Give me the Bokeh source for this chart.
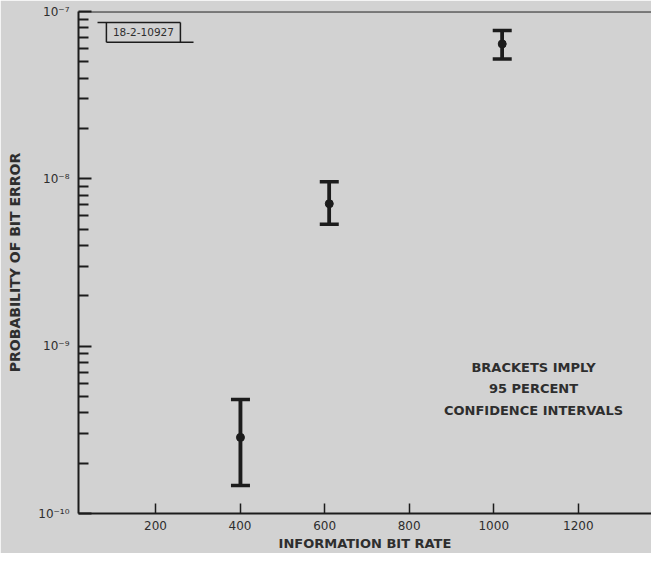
from bokeh.plotting import figure
from bokeh.models import (ColumnDataSource, Whisker, TeeHead, Label, Span,
                          CustomJSTickFormatter, FixedTicker)
from bokeh.embed import file_html
from bokeh.resources import INLINE

# ---- data ----
rates = [401, 611, 1020]
ber = [2.85e-10, 7.1e-9, 6.4e-8]
ber_low = [1.47e-10, 5.35e-9, 5.2e-8]
ber_high = [4.8e-10, 9.6e-9, 7.7e-8]
x_ticks = [200, 400, 600, 800, 1000, 1200, 1400]
y_decades = [1e-10, 1e-9, 1e-8, 1e-7]
note_lines = ["BRACKETS IMPLY", "95 PERCENT", "CONFIDENCE INTERVALS"]
tag_text = "18-2-10927"

BG = "#d2d2d2"
INK = "#1c1c1c"
TXT = "#2e2e2e"
FONT = "DejaVu Sans"

p = figure(width=651, height=553, x_range=(18, 1373), y_range=(1e-10, 1e-7),
           y_axis_type="log", output_backend="svg", toolbar_location=None,
           min_border_left=78, min_border_right=0, min_border_top=11,
           min_border_bottom=37)
p.background_fill_color = BG
p.border_fill_color = BG
p.outline_line_color = None
p.xgrid.visible = False
p.ygrid.visible = False

# top frame line
p.add_layout(Span(location=1e-7, dimension="width", line_color=INK, line_width=2))

src = ColumnDataSource(dict(x=rates, y=ber, lo=ber_low, hi=ber_high))
p.segment(x0="x", y0="lo", x1="x", y1="hi", source=src, line_color=INK, line_width=3.5)
w = Whisker(source=src, base="x", upper="hi", lower="lo", line_color=INK, line_width=3.5,
            upper_head=TeeHead(size=19, line_color=INK, line_width=3.5),
            lower_head=TeeHead(size=19, line_color=INK, line_width=3.5))
p.add_layout(w)
p.scatter(x="x", y="y", source=src, size=8, color=INK)

# x axis
xa = p.xaxis[0]
xa.ticker = FixedTicker(ticks=x_ticks, minor_ticks=[])
xa.axis_line_color = INK
xa.axis_line_width = 2
xa.major_tick_in = 10
xa.major_tick_out = 0
xa.major_tick_line_color = INK
xa.major_tick_line_width = 1.5
xa.minor_tick_line_color = None
xa.major_label_text_font = FONT
xa.major_label_text_font_size = "12px"
xa.major_label_text_color = TXT
xa.major_label_standoff = 7
xa.axis_label = "INFORMATION BIT RATE"
xa.axis_label_text_font = FONT
xa.axis_label_text_font_size = "13px"
xa.axis_label_text_font_style = "bold"
xa.axis_label_text_color = TXT
xa.axis_label_standoff = 3

# y axis
ya = p.yaxis[0]
minor = [m * d for d in y_decades[:-1] for m in range(2, 10)]
ya.ticker = FixedTicker(ticks=y_decades, minor_ticks=minor)
ya.formatter = CustomJSTickFormatter(code="""
const sup = {"-":"\u207b","0":"\u2070","1":"\u00b9","2":"\u00b2","3":"\u00b3","4":"\u2074",
             "5":"\u2075","6":"\u2076","7":"\u2077","8":"\u2078","9":"\u2079"};
const e = Math.round(Math.log10(tick));
return "10" + String(e).split("").map(c => sup[c]).join("");
""")
ya.axis_line_color = INK
ya.axis_line_width = 2
ya.major_tick_in = 13
ya.major_tick_out = 0
ya.minor_tick_in = 10
ya.minor_tick_out = 0
ya.major_tick_line_color = INK
ya.minor_tick_line_color = INK
ya.major_tick_line_width = 2
ya.minor_tick_line_width = 2
ya.major_label_text_font = FONT
ya.major_label_text_font_size = "12px"
ya.major_label_text_color = TXT
ya.major_label_standoff = 9
ya.axis_label = "PROBABILITY OF BIT ERROR"
ya.axis_label_text_font = FONT
ya.axis_label_text_font_size = "14px"
ya.axis_label_text_font_style = "bold"
ya.axis_label_text_color = TXT
ya.axis_label_standoff = 12

# note text (positions in data space)
for t, yy in zip(note_lines, [10 ** -9.127, 10 ** -9.252, 10 ** -9.383]):
    p.add_layout(Label(x=1094, y=yy, text=t, text_align="center", text_baseline="middle",
                       text_font=FONT, text_font_size="13px", text_font_style="bold",
                       text_color=TXT))

# tag box in top-left
tag_l, tag_r, tag_t, tag_b = 84, 259, 10 ** -7.065, 10 ** -7.184
p.segment(x0=[63, tag_l, tag_l, tag_r], y0=[tag_t, tag_t, tag_b, tag_b],
          x1=[tag_r, tag_l, 290, tag_r], y1=[tag_t, tag_b, tag_b, tag_t],
          line_color=INK, line_width=1.5)
p.add_layout(Label(x=(tag_l + tag_r) / 2, y=10 ** -7.125, text=tag_text, text_align="center",
                   text_baseline="middle", text_font=FONT, text_font_size="10.5px",
                   text_color=TXT))

open("out.html", "w").write(file_html(p, INLINE))
